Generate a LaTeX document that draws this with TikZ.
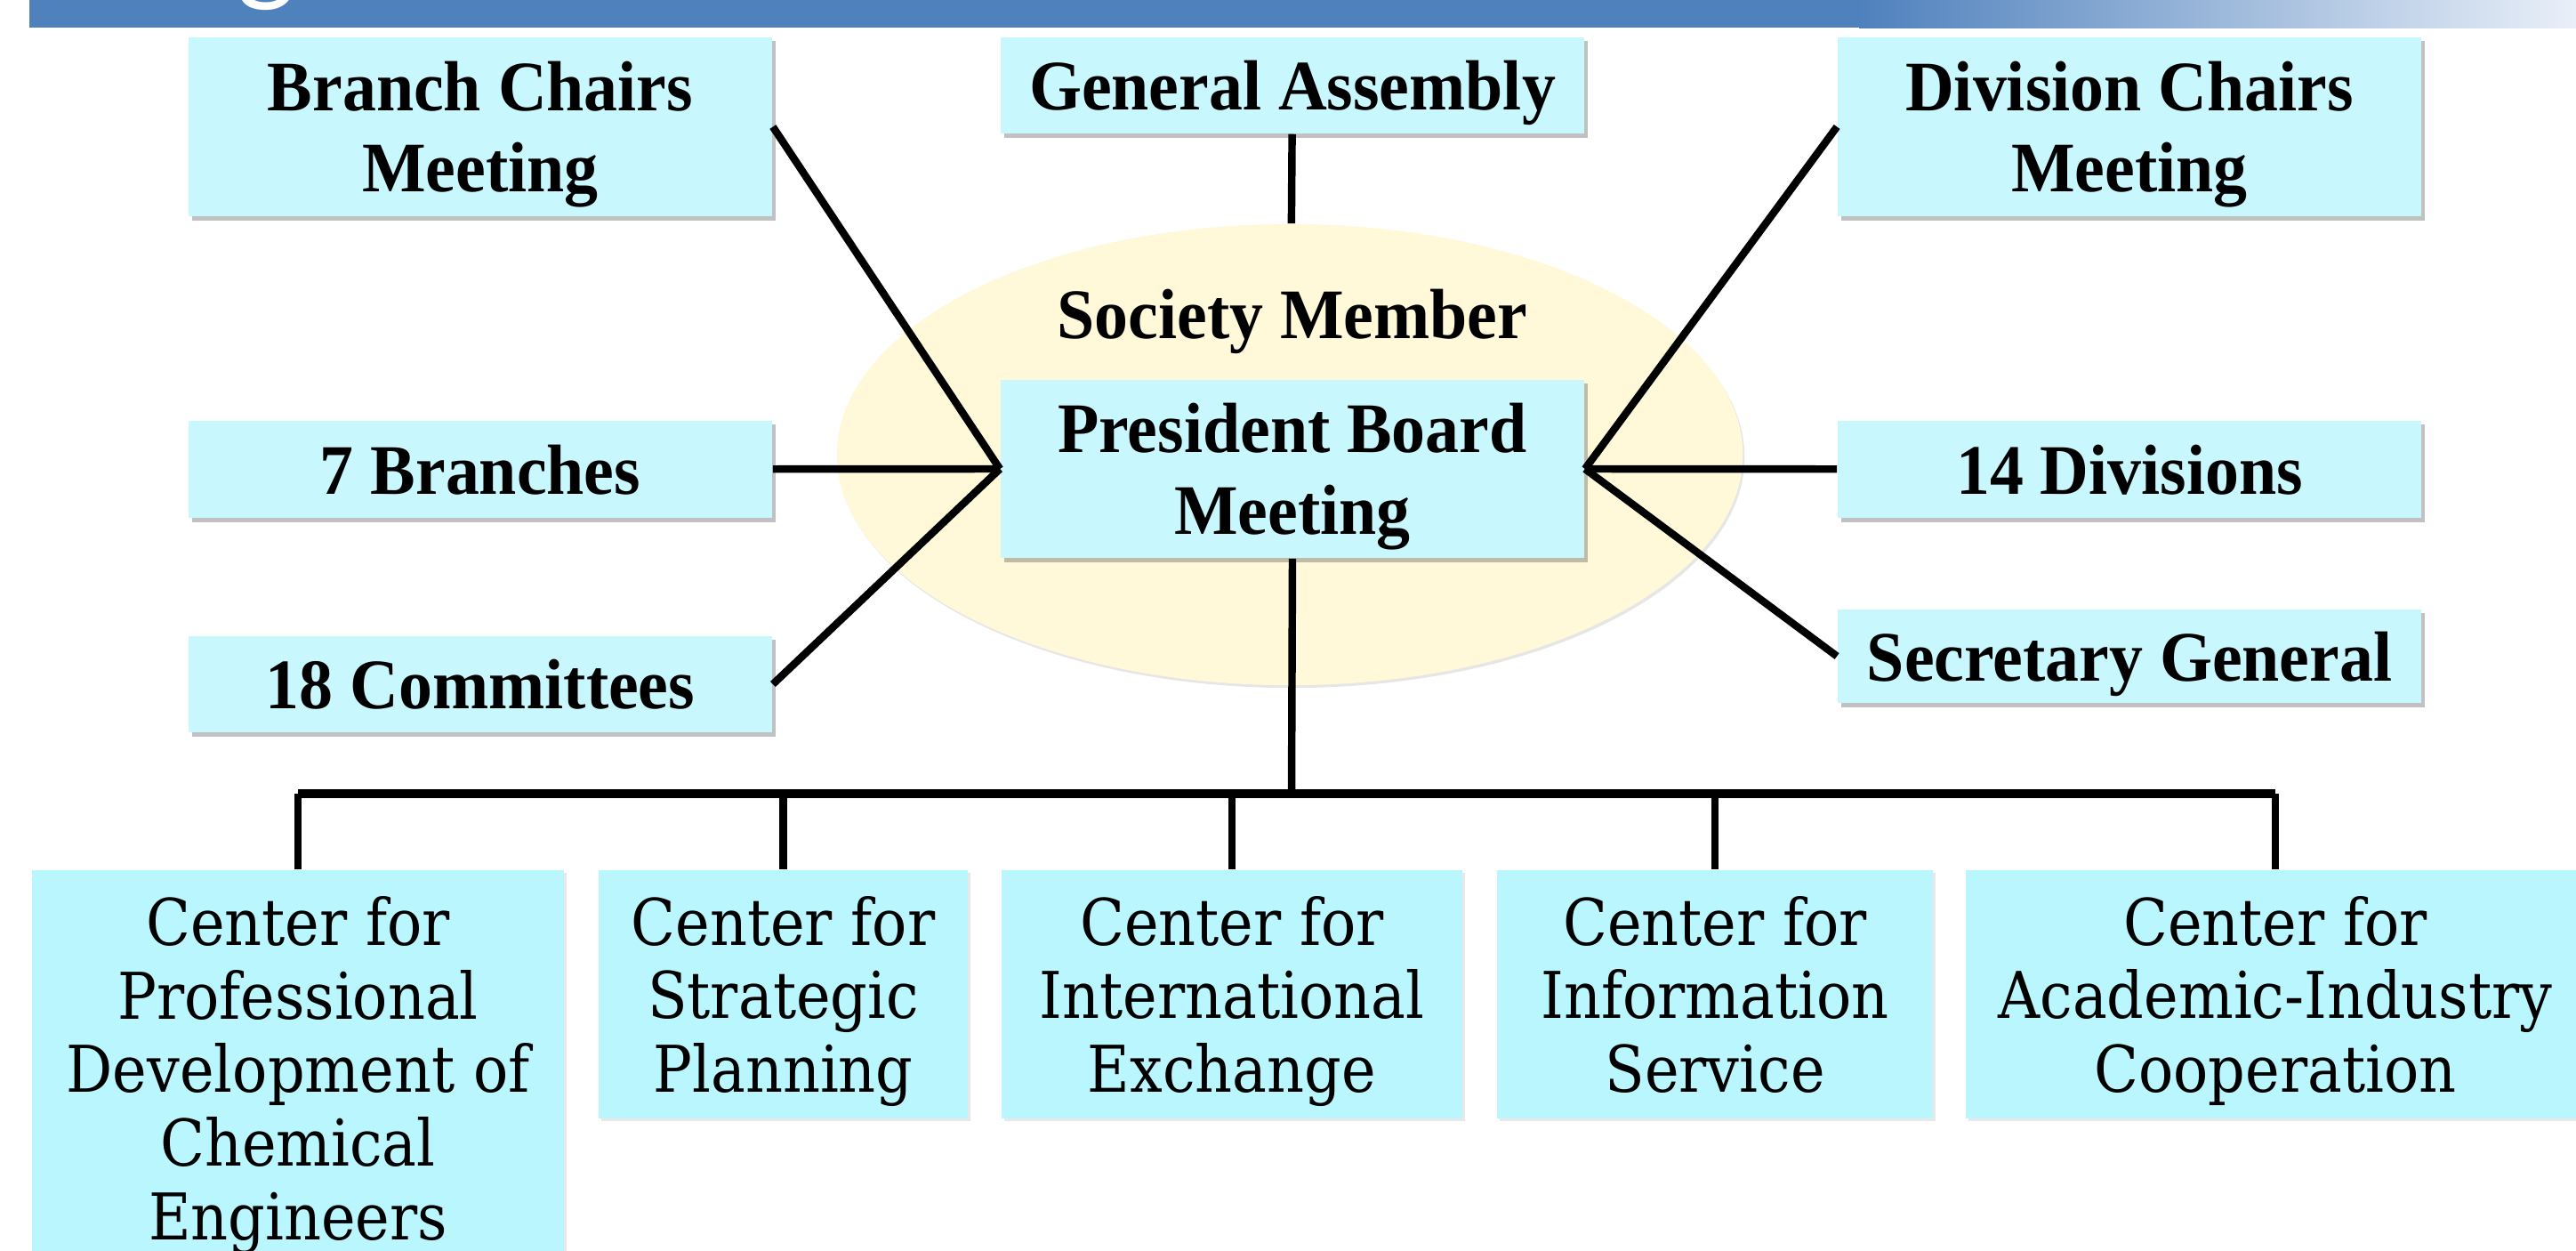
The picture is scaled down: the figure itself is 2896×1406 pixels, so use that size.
\documentclass[tikz,border=0pt]{standalone}
\usepackage{fontspec}
\newfontfamily\boxfont{Liberation Serif}[FakeStretch=0.95]
\newfontfamily\centerfont{DejaVu Serif}[FakeStretch=0.9]
\newfontfamily\titlefont{Carlito}
\usepackage{xcolor}
\definecolor{barBlue}{HTML}{4F81BD}
\definecolor{barFade}{HTML}{E9EFF8}
\definecolor{boxFill}{HTML}{C8F7FD}
\definecolor{centerFill}{HTML}{B9F6FE}
\definecolor{memberFill}{HTML}{FFF8D9}
\usepackage{tikz}
\usetikzlibrary{shapes.geometric,positioning,shadows}
\tikzset{
    orgbox/.style={
        rectangle,
        fill=boxFill,
        minimum width=6.56cm,
        inner sep=0pt,
        align=center,
        text depth=0pt,
        drop shadow={shadow xshift=0.04cm, shadow yshift=-0.045cm, opacity=0.35, fill=black!70},
        font=\boxfont\bfseries\fontsize{22.7}{26}\selectfont
    },
    centerbox/.style={
        rectangle,
        fill=centerFill,
        anchor=north,
        inner sep=0pt,
        align=center,
        text depth=0pt,
        drop shadow={shadow xshift=0.03cm, shadow yshift=-0.03cm, opacity=0.15, fill=black!60},
        font=\centerfont\fontsize{20.6}{23.5}\selectfont
    },
    memberzone/.style={
        ellipse,
        fill=memberFill,
        minimum width=10.18cm,
        minimum height=5.18cm,
        inner sep=0pt,
        drop shadow={shadow xshift=0.02cm, shadow yshift=-0.03cm, opacity=0.2, fill=black!50}
    },
    memberlabel/.style={
        inner sep=0pt,
        text depth=0pt,
        font=\boxfont\bfseries\fontsize{22.7}{26}\selectfont
    },
    orglink/.style={
        line width=2.4pt,
        color=black
    },
    busline/.style={
        line width=2.8pt,
        color=black
    }
}

\begin{document}
\begin{tikzpicture}[x=0.01cm, y=-0.01cm]
    \useasboundingbox (0,0) rectangle (2896,1406);

    % Title bar
    \fill[barBlue] (33,0) rectangle (2090,31);
    \shade[left color=barBlue, right color=barFade] (2090,0) rectangle (2896,31);
    \begin{scope}
        \clip (33,0) rectangle (2896,31);
        \node[text=white, anchor=base, inner sep=0pt, font=\titlefont\fontsize{40}{40}\selectfont] (titleg) at (300,-12) {g};
    \end{scope}

    % Society members
    \node[memberzone] (society) at (1450,511) {};

    % Upper bodies
    \node[orgbox, minimum height=2.01cm] (bcm) at (540,142.5) {Branch Chairs\\Meeting};
    \node[orgbox, minimum height=1.08cm] (ga) at (1453,96) {General Assembly};
    \node[orgbox, minimum height=2.01cm] (dcm) at (2394,142.5) {Division Chairs\\Meeting};

    % Side bodies
    \node[orgbox, minimum height=1.09cm] (branches) at (540,527.5) {7 Branches};
    \node[orgbox, minimum height=1.08cm] (committees) at (540,769) {18 Committees};
    \node[orgbox, minimum height=1.09cm] (divisions) at (2394,527.5) {14 Divisions};
    \node[orgbox, minimum height=1.05cm] (secretary) at (2394,737.5) {Secretary General};

    % Board
    \node[orgbox, minimum height=2cm] (pres) at (1453,527) {President Board\\Meeting};
    \node[memberlabel, above=0.45cm of pres] (societylabel) {Society Member};

    % Centers
    \node[centerbox, minimum width=5.98cm, minimum height=4.45cm] (profdev) at (335,977)
        {Center for\\Professional\\Development of\\Chemical\\Engineers};
    \node[centerbox, minimum width=4.15cm, minimum height=2.79cm] (strategic) at (880.5,977)
        {Center for\\Strategic\\Planning};
    \node[centerbox, minimum width=5.18cm, minimum height=2.79cm] (intl) at (1385,977)
        {Center for\\International\\Exchange};
    \node[centerbox, minimum width=4.90cm, minimum height=2.79cm] (info) at (1928,977)
        {Center for\\Information\\Service};
    \node[centerbox, minimum width=6.96cm, minimum height=2.79cm] (coop) at (2558,977)
        {Center for\\Academic-Industry\\Cooperation};

    % Connections
    \draw[orglink] (ga) -- (society);
    \draw[orglink] (bcm.east) -- (pres.west);
    \draw[orglink] (branches) -- (pres.west);
    \draw[orglink] (committees.east) -- (pres.west);
    \draw[orglink] (dcm.west) -- (pres.east);
    \draw[orglink] (divisions) -- (pres.east);
    \draw[orglink] (secretary.west) -- (pres.east);

    \coordinate (hub) at (1452,892);
    \draw[orglink] (pres.south) -- (hub);
    \draw[busline] (profdev.north |- hub) -- (coop.north |- hub);
    \foreach \c in {profdev,strategic,intl,info,coop}
        \draw[orglink] (\c.north) -- (\c.north |- hub);
\end{tikzpicture}
\end{document}
